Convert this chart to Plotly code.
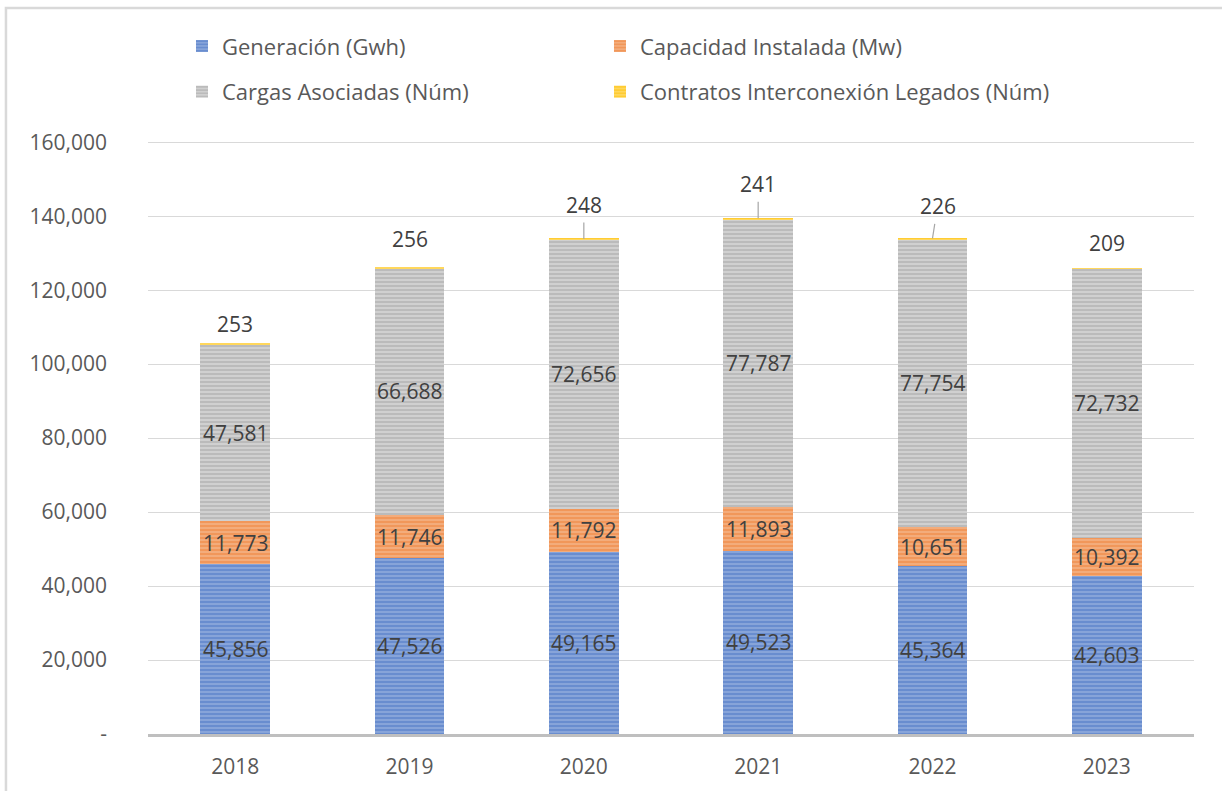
import plotly.graph_objects as go

years = ["2018", "2019", "2020", "2021", "2022", "2023"]
generacion = [45856, 47526, 49165, 49523, 45364, 42603]
capacidad = [11773, 11746, 11792, 11893, 10651, 10392]
cargas = [47581, 66688, 72656, 77787, 77754, 72732]
contratos = [253, 256, 248, 241, 226, 209]

names = ["Generación (Gwh)", "Capacidad Instalada (Mw)",
         "Cargas Asociadas (Núm)", "Contratos Interconexión Legados (Núm)"]
tick_vals = [0, 20000, 40000, 60000, 80000, 100000, 120000, 140000, 160000]
tick_text = ["-", "20,000", "40,000", "60,000", "80,000", "100,000",
             "120,000", "140,000", "160,000"]

FONT = "Open Sans"
series = [generacion, capacidad, cargas, contratos]
fg = ["#4472C4", "#ED7D31", "#A0A0A0", "#FFC000"]
bg = ["#8EA9DB", "#F4B183", "#D6D6D6", "#FFD966"]
legend_ids = ["legend", "legend2", "legend3", "legend4"]
legend_pos = [(0.0325, 1.158), (0.4321, 1.158), (0.0325, 1.081), (0.4321, 1.081)]

idx = list(range(len(years)))

fig = go.Figure()
for i, (nm, vals) in enumerate(zip(names, series)):
    fig.add_trace(go.Bar(
        x=idx, y=vals, name=nm, legend=legend_ids[i],
        marker=dict(color=bg[i], line=dict(width=0),
                    pattern=dict(shape="-", fgcolor=fg[i], bgcolor=bg[i],
                                 size=4, solidity=0.6, fillmode="overlay")),
        hoverinfo="skip",
    ))

annotations = []
base = [0] * len(years)
for vals in series[:3]:
    for j in idx:
        annotations.append(dict(
            x=j, y=base[j] + vals[j] / 2, text=f"{vals[j]:,}", showarrow=False,
            xanchor="center", yanchor="middle",
            font=dict(family=FONT, size=21, color="#404040")))
        base[j] += vals[j]
for j in idx:
    base[j] += contratos[j]

leader = {"2020": (0, -34), "2021": (0, -34), "2022": (5, -32)}
shift = {"2018": 20, "2019": 28, "2023": 25}
for j in idx:
    y = years[j]
    if y in leader:
        ax, ay = leader[y]
        annotations.append(dict(
            x=j, y=base[j], text=f"{contratos[j]:,}", showarrow=True,
            arrowhead=0, arrowwidth=1.2, arrowcolor="#A6A6A6", ax=ax, ay=ay,
            standoff=0, startstandoff=2,
            font=dict(family=FONT, size=21, color="#404040")))
    else:
        annotations.append(dict(
            x=j, y=base[j], text=f"{contratos[j]:,}", showarrow=False,
            yshift=shift[y], xanchor="center", yanchor="middle",
            font=dict(family=FONT, size=21, color="#404040")))

legends = {}
for lid, (lx, ly) in zip(legend_ids, legend_pos):
    legends[lid] = dict(orientation="h", x=lx, y=ly, xanchor="left", yanchor="middle",
                        itemwidth=30, font=dict(family=FONT, size=22, color="#595959"))

fig.update_layout(
    width=1222, height=791,
    margin=dict(l=148, r=28, t=140, b=57, autoexpand=False),
    paper_bgcolor="white", plot_bgcolor="white",
    barmode="stack", bargap=0.6,
    font=dict(family=FONT, size=21, color="#595959"),
    showlegend=True,
    annotations=annotations,
    shapes=[dict(type="path", xref="paper", yref="paper",
                 path="M -0.1358,-0.2 L -0.1358,1.2222 L 1.1,1.2222",
                 line=dict(color="#D9D9D9", width=2.5))],
    **legends,
)
fig.update_yaxes(range=[0, 160600], tickvals=tick_vals, ticktext=tick_text,
                 showgrid=True, gridcolor="#D9D9D9", gridwidth=1.3,
                 zeroline=False, showline=False, ticks="",
                 ticklabelstandoff=40, automargin=False,
                 tickfont=dict(family=FONT, size=21, color="#595959"))
fig.update_xaxes(range=[-0.5, len(years) - 0.5], tickvals=idx, ticktext=years,
                 showgrid=False, zeroline=False,
                 showline=True, linecolor="#BFBFBF", linewidth=3,
                 ticks="", automargin=False,
                 tickfont=dict(family=FONT, size=21, color="#595959"),
                 ticklabelstandoff=12)

fig.write_html("out.html", config={"displayModeBar": False},
               post_script="document.body.style.margin='0';")
